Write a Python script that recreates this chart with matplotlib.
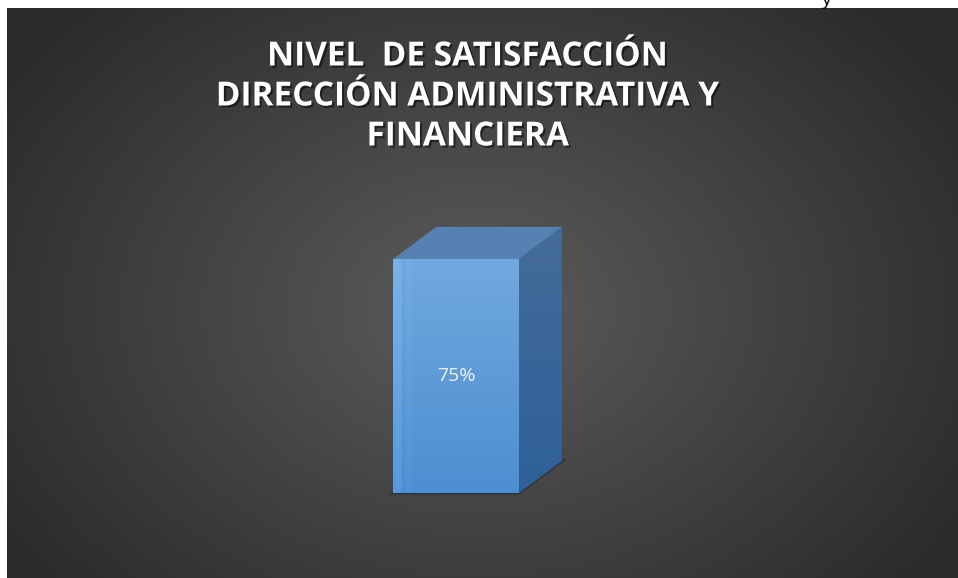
import numpy as np
import matplotlib
matplotlib.use('Agg')
import matplotlib.pyplot as plt
from matplotlib.patches import Polygon
import matplotlib.patheffects as pe

# data
categories = ['Satisfacción']
values = [75]
labels = ['75%']
title = 'NIVEL  DE SATISFACCIÓN\nDIRECCIÓN ADMINISTRATIVA Y\nFINANCIERA'

W, H = 958, 578
fig = plt.figure(figsize=(W / 100, H / 100), dpi=100)
fig.patch.set_facecolor('white')

# background with radial gradient (dark panel)
bg = fig.add_axes([7 / W, 0, 1 - 7 / W, 1 - 8 / H])
bg.set_axis_off()
yy, xx = np.mgrid[0:570, 0:951]
r = np.sqrt(((xx - 470) / 560.0) ** 2 + ((yy - 300) / 420.0) ** 2)
shade = np.clip(0.36 - 0.19 * r, 0.17, 0.36)
bg.imshow(np.dstack([shade, shade, shade]), aspect='auto', extent=(0, 1, 0, 1))
bg.set_xlim(0, 1)
bg.set_ylim(0, 1)

# the cut-off letter at the top
fig.text(826 / W, 1 - 5 / H, 'y', color='black', fontsize=14, ha='center', va='baseline',
         family='Open Sans')

# title
fig.text(468 / W, 1 - 97 / H, title, color='white', fontsize=24, fontweight='bold',
         ha='center', va='center', linespacing=1.28, family='Open Sans',
         path_effects=[pe.withSimplePatchShadow(offset=(1.5, -1.5), shadow_rgbFace='black', alpha=0.5)])

# main axes for the bar
ax = fig.add_axes([200 / W, (H - 493) / H, 512 / W, 312 / H])
ax.set_xlim(-1, 1)
ax.set_ylim(0, 100)
ax.set_axis_off()

xs = np.arange(len(categories))
width = 0.49
dx, dy = 0.168, 10.3

bars = ax.bar(xs, values, width=width, color='#5b9bd8', zorder=3)

for b, lab in zip(bars, labels):
    x0 = b.get_x()
    x1 = x0 + b.get_width()
    top = b.get_height()

    # floor shadow
    ax.add_patch(Polygon([(x0 - 0.02, -0.6), (x1, -0.6), (x1 + dx + 0.02, dy + 0.5),
                          (x0 + dx, dy + 0.5)], closed=True, facecolor='#1e2a38',
                         alpha=0.55, zorder=1, clip_on=False))

    # front face gradient
    gy = np.linspace(0, 1, 100)[:, None]
    gx = np.linspace(0, 1, 60)[None, :]
    top_c = np.array([0.44, 0.66, 0.87])
    bot_c = np.array([0.30, 0.56, 0.82])
    img = bot_c[None, None, :] * gy[..., None] + top_c[None, None, :] * (1 - gy[..., None])
    img = img * np.ones((1, 60, 1))
    band = np.where(gx < 0.06, 0.04, 0.0) + np.where((gx > 0.1) & (gx < 0.14), 0.015, 0.0)
    img = np.clip(img + band[..., None], 0, 1)
    im = ax.imshow(img, extent=(x0, x1, 0, top), origin='upper', aspect='auto', zorder=4)
    im.set_clip_path(b)

    # side face
    side = Polygon([(x1, 0), (x1 + dx, dy), (x1 + dx, top + dy), (x1, top)], closed=True,
                   facecolor='#34649a', edgecolor='none', zorder=3, clip_on=False)
    ax.add_patch(side)
    sg = np.linspace(0, 1, 100)[:, None, None]
    s_top = np.array([0.27, 0.42, 0.60])
    s_bot = np.array([0.18, 0.38, 0.60])
    simg = (s_top * (1 - sg) + s_bot * sg) * np.ones((1, 20, 1))
    sim = ax.imshow(simg, extent=(x1, x1 + dx, 0, top + dy), origin='upper', aspect='auto',
                    zorder=4)
    sim.set_clip_path(side)

    # top face
    ax.add_patch(Polygon([(x0, top), (x1, top), (x1 + dx, top + dy), (x0 + dx, top + dy)],
                         closed=True, facecolor='#5682b3', edgecolor='none', zorder=4,
                         clip_on=False))

    ax.text(b.get_x() + b.get_width() / 2, top / 2, lab, color='#eef3fa', fontsize=14,
            ha='center', va='center', zorder=6, family='Open Sans')

ax.set_xlim(-1, 1)
ax.set_ylim(0, 100)

fig.savefig('out.png', dpi=100)
